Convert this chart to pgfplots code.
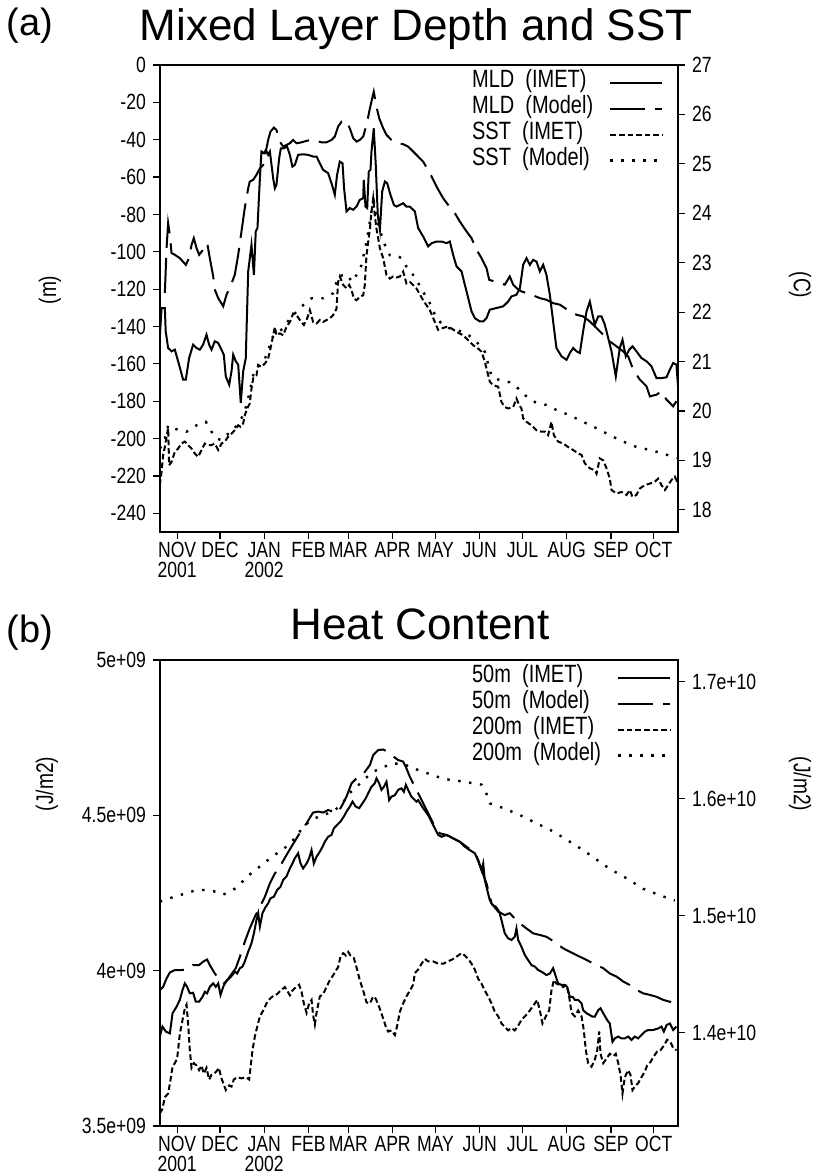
\documentclass[border=0pt]{standalone}
\usepackage{fontspec}
\setmainfont{Liberation Sans}
\newfontfamily\narrowfont{Liberation Sans}[FakeStretch=0.8]
\usepackage{pgfplots}
\usepackage{pgfplotstable}
\pgfplotsset{compat=1.18}

\newcommand\tickfont{\narrowfont\fontsize{11}{10}\selectfont}
\newcommand\labfont{\narrowfont\fontsize{12}{12}\selectfont}
\newcommand\legfont{\narrowfont\fontsize{12.5}{13}\selectfont}

% ---------- panel (a): MLD (m) and SST (C), x = days since 1 Nov 2001
\pgfplotstableread{
day val
-12.1 -145.3
-10.9 -130.1
-8.6 -130.1
-8.0 -142.6
-6.3 -151.5
-3.9 -153.3
-1.6 -152.4
0.7 -158.6
4.2 -168.4
6.1 -168.4
8.4 -156.9
11.2 -149.7
13.6 -151.5
15.9 -152.4
18.2 -149.7
20.6 -144.4
22.4 -149.7
24.1 -152.4
26.4 -147.9
28.8 -148.8
31.1 -152.4
32.7 -155.1
34.1 -166.7
36.5 -171.1
38.1 -164.0
39.3 -155.1
41.1 -158.6
42.8 -160.4
44.6 -180.9
46.3 -164.0
48.1 -156.9
49.8 -110.5
52.1 -96.3
53.8 -112.3
55.1 -89.1
56.3 -87.3
58.0 -60.6
59.1 -46.3
60.8 -47.2
62.2 -45.5
63.8 -48.1
65.0 -46.3
67.3 -60.6
68.5 -66.0
69.6 -64.2
71.5 -49.9
72.7 -44.6
74.8 -44.6
77.1 -43.7
79.0 -48.1
80.8 -54.4
82.5 -53.5
84.8 -48.1
88.3 -47.8
91.8 -48.1
95.3 -49.0
97.7 -49.0
100.0 -52.6
102.3 -56.1
105.8 -57.9
108.2 -63.3
110.5 -69.5
112.1 -58.8
114.0 -51.7
115.9 -52.6
117.0 -66.0
118.7 -78.4
121.0 -76.6
123.4 -77.5
125.7 -75.8
128.0 -72.2
130.4 -71.3
130.8 -61.5
132.0 -75.8
133.2 -76.6
134.3 -57.0
135.5 -56.1
136.2 -46.3
137.8 -33.9
139.2 -53.5
140.6 -80.2
142.1 -88.2
143.7 -67.7
145.6 -62.4
147.2 -63.3
149.5 -69.5
151.9 -74.9
153.7 -75.8
156.1 -74.9
158.4 -74.0
160.7 -75.8
163.1 -75.8
166.6 -78.4
168.9 -87.3
172.4 -91.8
175.9 -97.1
178.3 -95.4
181.8 -94.5
185.3 -94.5
188.8 -95.4
191.1 -94.5
193.4 -101.6
195.8 -107.8
199.3 -110.5
201.6 -117.6
204.0 -124.8
206.3 -131.9
208.6 -135.5
212.1 -137.3
214.5 -137.3
216.8 -135.5
219.1 -131.0
223.8 -130.1
228.5 -129.2
232.0 -126.6
234.3 -123.9
237.8 -123.0
240.2 -119.4
242.5 -107.0
244.8 -103.4
247.2 -107.0
249.5 -104.3
251.8 -105.2
254.2 -110.5
256.5 -107.0
258.8 -112.3
261.2 -123.0
263.5 -137.3
265.8 -151.5
269.4 -156.0
272.9 -157.8
275.2 -154.2
277.5 -151.5
279.9 -153.3
282.2 -154.2
284.5 -142.6
286.9 -131.9
289.2 -126.6
291.1 -133.7
292.7 -139.0
295.1 -134.6
297.4 -134.6
299.7 -139.0
302.1 -146.2
304.4 -153.3
307.4 -166.7
310.2 -151.5
312.1 -147.1
314.4 -156.0
316.8 -152.4
319.1 -150.6
321.9 -153.3
325.4 -156.9
328.9 -158.6
332.4 -161.3
335.9 -167.6
339.4 -167.6
342.9 -167.2
345.3 -163.1
347.6 -159.5
349.9 -160.4
351.0 -172.0
}\mldimet

\pgfplotstableread{
day val
-8.6 -122.0
-7.4 -98.0
-6.3 -84.7
-5.1 -91.0
-3.9 -100.7
-1.6 -101.6
1.9 -103.4
6.1 -107.0
8.4 -103.4
10.1 -96.3
11.7 -92.7
13.6 -98.0
15.4 -101.6
18.2 -98.9
21.1 -95.4
22.9 -103.4
25.3 -113.2
26.4 -120.3
28.8 -124.8
32.3 -129.2
34.6 -123.0
36.9 -119.4
40.4 -112.3
42.8 -101.6
45.1 -89.1
47.4 -76.6
49.8 -66.0
50.9 -62.4
53.3 -61.5
55.6 -58.8
58.0 -55.3
60.3 -53.5
62.2 -46.3
63.8 -40.1
65.4 -35.7
67.8 -33.5
69.6 -34.8
72.0 -41.0
74.3 -43.7
76.6 -42.8
79.0 -41.9
81.3 -40.1
83.7 -41.9
87.2 -41.4
90.7 -40.6
94.2 -40.1
97.7 -40.6
101.2 -41.4
104.7 -41.4
108.2 -40.1
110.5 -38.3
112.8 -33.0
115.2 -30.3
118.7 -29.9
121.0 -33.9
123.4 -39.2
125.7 -41.0
128.0 -40.1
130.4 -38.3
132.7 -32.1
135.1 -23.2
137.8 -14.3
139.7 -22.3
141.6 -28.5
144.4 -33.9
146.7 -37.4
150.2 -40.1
154.9 -41.9
158.4 -42.4
161.9 -43.7
165.4 -46.3
167.7 -48.1
172.4 -51.7
177.1 -57.9
181.8 -65.1
186.4 -71.3
189.9 -74.9
194.6 -79.3
198.1 -83.8
202.8 -89.1
206.3 -92.7
209.8 -98.9
213.3 -103.4
216.8 -108.7
218.7 -115.0
226.1 -116.8
229.6 -117.6
233.1 -113.2
235.5 -117.6
237.8 -119.4
241.3 -121.2
248.3 -123.0
254.2 -124.8
258.8 -125.7
263.5 -127.5
268.2 -128.3
275.2 -131.9
279.9 -133.7
284.5 -134.6
289.2 -137.3
293.9 -140.8
298.6 -144.4
303.2 -148.0
307.9 -150.6
312.6 -153.3
316.1 -156.0
319.6 -163.1
324.2 -168.4
328.9 -172.0
331.3 -177.4
335.9 -176.5
339.4 -174.7
342.9 -179.1
347.6 -182.7
349.9 -180.0
}\mldmodel

\pgfplotstableread{
day val
-12.1 18.50
-10.9 18.77
-9.8 19.11
-8.6 19.27
-7.4 19.48
-6.3 19.65
-5.6 18.90
-3.9 18.97
-1.6 19.17
0.7 19.24
3.1 19.34
5.4 19.38
7.7 19.31
10.1 19.24
12.4 19.14
14.7 19.07
17.1 19.21
19.4 19.34
21.8 19.31
24.1 19.31
26.4 19.34
28.8 19.21
31.1 19.34
33.4 19.38
35.8 19.48
38.1 19.54
40.4 19.61
42.8 19.71
44.4 19.68
46.3 19.75
47.4 19.91
49.1 20.05
50.9 20.15
52.1 20.45
53.3 20.66
55.6 20.72
56.8 20.93
59.1 20.89
61.5 20.96
63.8 21.06
65.4 21.26
67.3 21.53
68.5 21.70
69.6 21.53
72.0 21.57
74.3 21.53
76.6 21.70
79.0 21.80
81.3 21.97
83.7 21.94
86.0 21.84
88.8 21.74
91.1 21.87
93.0 22.04
95.3 21.80
97.7 21.77
100.0 21.84
102.3 21.80
104.7 21.84
107.0 21.87
109.3 21.94
111.7 22.07
112.8 22.61
114.0 22.72
116.4 22.55
118.7 22.48
120.6 22.55
122.2 22.45
123.8 22.28
125.7 22.24
128.0 22.31
130.4 22.34
131.5 22.55
132.7 23.15
133.9 23.42
135.1 23.69
136.2 24.03
137.4 24.30
138.5 23.96
139.7 23.69
140.9 23.49
142.1 23.29
144.4 23.09
146.7 22.75
149.1 22.68
151.4 22.72
153.7 22.70
156.1 22.72
158.4 22.82
160.7 22.58
163.1 22.61
167.7 22.48
172.4 22.24
177.1 22.04
180.6 21.80
182.9 21.64
185.3 21.67
188.8 21.70
192.3 21.67
195.8 21.60
200.4 21.53
204.0 21.43
207.5 21.33
211.0 21.26
213.3 21.20
215.6 21.00
216.8 20.86
219.1 20.59
221.5 20.52
225.0 20.49
227.3 20.18
229.6 20.08
232.0 20.05
235.5 20.08
237.8 20.25
239.7 20.12
241.3 20.05
242.5 19.85
244.8 19.78
248.3 19.71
251.8 19.61
255.3 19.58
257.7 19.58
260.0 19.51
262.3 19.78
264.0 19.51
267.0 19.38
270.5 19.34
274.0 19.27
277.5 19.21
281.0 19.14
283.4 19.11
285.7 18.94
289.2 18.84
292.7 18.80
293.9 18.73
296.2 19.04
298.6 19.00
300.9 18.84
303.2 18.63
304.4 18.40
307.9 18.33
311.4 18.36
314.9 18.30
317.2 18.40
319.1 18.26
321.9 18.30
324.2 18.43
327.8 18.50
331.3 18.53
334.8 18.57
337.1 18.63
339.4 18.50
341.8 18.40
344.1 18.50
346.4 18.60
348.8 18.67
351.0 18.53
}\sstimet

\pgfplotstableread{
day val
-12.1 19.24
-9.8 19.34
-7.4 19.54
-6.3 19.71
-2.8 19.65
1.9 19.61
6.6 19.58
13.6 19.71
20.1 19.78
24.1 19.58
27.6 19.44
31.1 19.41
34.6 19.51
39.3 19.61
42.8 19.75
46.3 19.91
48.6 20.12
50.9 20.39
53.3 20.72
55.6 20.86
58.0 20.96
61.5 21.06
63.8 21.20
66.1 21.47
69.6 21.57
74.3 21.67
79.0 21.87
83.7 22.01
88.3 22.14
94.2 22.28
102.3 22.28
109.3 22.38
112.8 22.72
116.4 22.75
119.9 22.75
122.2 22.61
125.7 22.75
129.2 22.95
132.7 23.42
135.1 23.83
136.9 24.17
137.8 24.23
139.7 23.90
143.2 23.56
145.6 23.36
149.1 23.15
153.7 23.15
157.2 23.09
160.7 22.92
163.1 22.85
167.7 22.65
172.4 22.41
177.1 22.18
181.8 21.87
186.4 21.74
191.1 21.67
195.8 21.64
202.8 21.57
209.8 21.40
215.6 21.20
220.3 20.70
226.1 20.62
233.1 20.58
237.4 20.50
243.7 20.32
250.7 20.18
258.8 20.12
265.8 20.02
275.2 19.91
284.5 19.78
293.9 19.65
303.2 19.51
312.6 19.38
321.9 19.27
331.3 19.21
340.6 19.14
349.9 19.04
}\sstmodel

% ---------- panel (b): heat content, both in units of 1e9 J/m2
\pgfplotstableread{
day val
-12.1 3.788
-10.3 3.820
-7.9 3.804
-5.1 3.798
-3.2 3.863
-0.4 3.884
1.9 3.906
3.8 3.938
5.4 3.959
7.0 3.948
8.9 3.927
11.2 3.929
13.1 3.900
15.4 3.900
17.8 3.916
19.4 3.932
21.0 3.927
22.9 3.948
25.3 3.959
27.1 3.948
28.8 3.959
30.4 3.922
32.3 3.948
34.1 3.965
36.5 3.975
38.8 3.986
40.4 3.997
42.1 3.991
44.0 4.008
45.8 4.013
47.4 4.029
49.8 4.061
52.1 4.088
53.8 4.120
55.6 4.163
56.8 4.185
58.0 4.142
59.8 4.185
61.5 4.201
63.8 4.217
65.4 4.233
67.8 4.238
70.1 4.260
72.4 4.270
74.3 4.292
76.6 4.303
79.0 4.329
80.8 4.345
82.5 4.362
84.8 4.378
86.5 4.345
88.3 4.329
90.7 4.345
92.5 4.362
94.2 4.388
95.8 4.345
97.7 4.367
100.0 4.383
101.9 4.399
103.5 4.415
105.8 4.431
108.2 4.437
109.8 4.458
112.1 4.469
114.5 4.480
116.8 4.496
118.7 4.512
121.0 4.528
122.9 4.544
125.2 4.528
127.6 4.523
129.9 4.539
132.2 4.555
133.9 4.571
136.2 4.592
138.5 4.603
139.7 4.619
141.6 4.603
143.2 4.582
144.9 4.592
146.7 4.608
148.6 4.549
150.2 4.560
152.6 4.565
154.9 4.582
157.2 4.587
158.9 4.576
160.3 4.598
161.9 4.582
164.2 4.560
167.7 4.544
168.9 4.549
172.4 4.523
175.9 4.501
179.4 4.469
182.9 4.437
185.3 4.431
188.8 4.437
193.4 4.426
198.1 4.415
201.6 4.399
205.1 4.388
208.6 4.378
211.0 4.356
213.3 4.324
214.5 4.345
215.6 4.292
217.3 4.260
219.1 4.227
221.0 4.211
223.3 4.206
225.7 4.190
227.3 4.163
229.6 4.120
232.0 4.104
234.3 4.099
236.6 4.109
237.8 4.136
239.0 4.099
241.3 4.077
243.7 4.050
246.0 4.034
248.3 4.018
250.7 4.013
253.0 4.002
255.3 3.997
258.8 3.986
261.2 3.991
263.5 4.008
265.4 3.981
267.0 3.959
269.4 3.954
271.7 3.954
273.3 3.948
275.2 3.916
277.1 3.916
278.7 3.906
281.0 3.906
283.4 3.895
284.5 3.873
286.9 3.863
289.2 3.857
291.1 3.852
292.7 3.852
295.1 3.873
296.7 3.879
298.6 3.863
301.4 3.841
303.2 3.830
305.1 3.771
306.7 3.782
309.1 3.788
311.4 3.782
313.7 3.782
316.1 3.788
318.4 3.777
320.7 3.788
323.1 3.782
325.4 3.793
327.8 3.804
330.1 3.809
333.6 3.809
337.1 3.814
339.4 3.820
341.1 3.804
343.0 3.825
345.3 3.830
347.6 3.809
349.9 3.820
}\fiftyimet

\pgfplotstableread{
day val
-12.1 3.938
-9.8 3.948
-7.4 3.975
-5.1 3.994
-1.6 4.002
3.1 4.002
6.6 4.004
10.8 4.018
15.4 4.018
18.2 4.029
21.0 4.036
22.9 4.018
26.4 3.991
29.9 3.970
33.4 3.959
36.9 3.981
41.1 4.008
44.4 4.050
47.4 4.093
50.9 4.136
54.5 4.174
57.5 4.201
61.5 4.238
65.0 4.281
68.5 4.313
72.0 4.335
76.6 4.372
80.1 4.399
83.7 4.426
87.2 4.453
90.7 4.474
93.5 4.496
95.3 4.509
98.8 4.512
102.3 4.509
105.8 4.517
109.3 4.512
112.8 4.509
116.4 4.539
118.7 4.560
122.2 4.603
125.7 4.619
130.4 4.633
135.1 4.662
137.4 4.694
140.9 4.710
144.4 4.712
147.2 4.705
150.2 4.694
154.9 4.678
158.4 4.673
160.7 4.651
163.1 4.624
166.6 4.592
170.1 4.560
173.6 4.528
177.1 4.496
180.6 4.464
184.1 4.442
188.8 4.437
193.4 4.426
198.1 4.415
202.8 4.399
207.5 4.383
209.8 4.367
213.3 4.324
216.8 4.281
220.3 4.217
225.0 4.190
229.6 4.179
233.1 4.185
236.6 4.168
240.2 4.152
244.8 4.136
249.5 4.120
254.2 4.115
258.8 4.109
262.3 4.099
265.8 4.088
270.5 4.072
275.2 4.061
279.9 4.050
284.5 4.040
289.2 4.029
293.9 4.018
298.6 4.008
303.2 3.991
307.9 3.981
312.6 3.965
317.2 3.954
321.9 3.938
326.6 3.927
331.3 3.922
335.9 3.916
340.6 3.906
345.3 3.900
348.8 3.895
}\fiftymodel

\pgfplotstableread{
day val
-12.1 13.31
-10.3 13.35
-8.6 13.45
-6.3 13.48
-4.6 13.60
-3.2 13.71
-1.6 13.74
0.0 13.78
1.9 13.99
3.8 14.11
5.4 14.21
6.6 14.24
7.7 14.08
8.9 13.85
10.1 13.70
11.7 13.74
13.6 13.72
15.4 13.68
17.1 13.72
18.7 13.65
20.6 13.70
22.4 13.60
24.1 13.64
25.7 13.65
27.6 13.67
29.2 13.70
31.1 13.61
32.3 13.57
34.1 13.51
36.5 13.55
38.1 13.54
39.7 13.60
42.1 13.62
45.1 13.61
48.1 13.62
50.5 13.60
51.6 13.72
52.8 13.85
54.5 13.97
56.1 14.05
58.0 14.14
60.3 14.19
62.6 14.25
65.0 14.29
67.8 14.32
70.1 14.33
72.4 14.36
75.5 14.39
77.1 14.36
79.0 14.32
80.8 14.36
83.2 14.39
85.5 14.41
87.2 14.35
88.8 14.25
90.7 14.17
92.5 14.25
94.2 14.28
95.3 14.15
96.5 14.07
97.7 14.17
100.0 14.31
102.3 14.33
104.7 14.39
107.0 14.45
109.3 14.49
111.2 14.53
112.8 14.56
114.5 14.65
116.4 14.68
118.2 14.66
119.9 14.69
121.5 14.66
123.8 14.64
125.7 14.56
128.0 14.45
130.4 14.36
132.7 14.26
135.1 14.25
137.4 14.31
139.2 14.29
141.6 14.22
143.9 14.14
146.3 14.05
147.9 14.01
150.2 14.02
152.6 13.98
154.2 14.06
156.1 14.18
158.4 14.25
160.7 14.31
163.1 14.36
165.4 14.41
166.6 14.51
168.9 14.54
171.3 14.59
173.6 14.63
175.9 14.61
179.4 14.61
182.9 14.59
186.4 14.59
189.9 14.61
193.4 14.63
197.0 14.66
199.3 14.68
201.6 14.66
204.0 14.63
206.3 14.59
208.6 14.54
211.0 14.46
213.3 14.42
215.6 14.36
218.0 14.31
220.3 14.25
222.6 14.18
225.0 14.14
227.3 14.08
229.6 14.05
232.0 14.02
234.3 14.04
236.6 14.02
239.0 14.06
241.3 14.11
243.7 14.14
246.0 14.17
248.3 14.21
250.7 14.25
252.3 14.28
254.2 14.19
256.0 14.08
258.4 14.14
260.7 14.19
262.3 14.36
264.0 14.45
265.8 14.42
268.2 14.41
270.5 14.39
272.9 14.41
274.7 14.31
276.4 14.17
278.7 14.14
281.0 14.19
283.4 14.14
285.0 14.02
286.4 13.85
288.0 13.74
290.4 13.71
292.7 13.77
294.4 13.85
295.8 14.01
296.7 13.82
298.6 13.74
300.9 13.78
303.2 13.82
305.6 13.80
307.4 13.82
309.1 13.74
310.7 13.64
312.1 13.48
313.7 13.62
316.1 13.68
317.7 13.64
319.1 13.51
320.7 13.54
323.1 13.57
325.4 13.62
327.8 13.67
329.4 13.72
331.7 13.75
334.1 13.80
336.4 13.84
338.7 13.85
341.1 13.89
343.4 13.94
345.7 13.92
347.6 13.87
349.9 13.85
}\twohimet

\pgfplotstableread{
day val
-12.1 15.12
-5.1 15.15
3.1 15.18
11.2 15.21
18.2 15.22
25.3 15.21
32.3 15.18
40.4 15.23
47.4 15.31
53.3 15.38
59.1 15.43
65.0 15.49
72.0 15.55
77.8 15.60
83.7 15.68
88.3 15.76
94.2 15.82
100.0 15.85
104.7 15.87
110.5 15.90
116.4 15.97
121.0 16.05
125.7 16.10
131.5 16.17
137.4 16.23
144.4 16.27
151.4 16.30
158.4 16.30
163.1 16.27
174.8 16.22
186.4 16.17
198.1 16.15
213.3 16.12
217.3 16.03
219.1 15.96
228.5 15.92
240.2 15.86
251.8 15.79
263.5 15.72
272.9 15.65
284.5 15.56
293.9 15.48
303.2 15.40
314.9 15.32
326.6 15.23
337.1 15.18
348.8 15.13
}\twohmodel

\pgfplotsset{
  imet/.style={black, line width=1pt, solid},
  model/.style={black, line width=1pt, dash pattern=on 17.5pt off 5pt},
  imetb/.style={black, line width=1pt, dash pattern=on 2.8pt off 1.5pt},
  modelb/.style={black, line width=1.2pt, dash pattern=on 1.2pt off 4.3pt},
  base/.style={
    scale only axis, width=259pt, height=233.5pt,
    xmin=-12, xmax=351, no markers,
    axis line style={line width=1pt},
    tick align=outside, major tick length=3.5pt,
    every tick/.style={black, line width=0.6pt},
    tick label style={font=\tickfont},
  },
  leftax/.style={base, xtick pos=lower, ytick pos=left,
    xtick={0,30,61,92,120,151,181,212,242,273,304,334},
    xticklabels={NOV\\2001,DEC,JAN\\2002,FEB,MAR,APR,MAY,JUN,JUL,AUG,SEP,OCT},
    xticklabel style={align=center, yshift=2pt},
  },
  rightax/.style={base, axis x line=none, axis y line*=right,
    legend cell align=left, legend plot pos=right,
    legend image code/.code={\draw[##1] (0pt,0pt) -- (26pt,0pt);},
    legend style={at={(rel axis cs:0.6017,0.991)}, anchor=north west,
      draw=none, fill=none, inner sep=0pt, font=\legfont,
      row sep=0pt, column sep=8pt,
      nodes={inner sep=0pt, text height=9pt, text depth=4pt}},
  },
}

\begin{document}
\begin{tikzpicture}
\path[use as bounding box] (0,0) rectangle (409.5pt,-588pt);

% titles
\node[font=\fontsize{19}{19}\selectfont] at (15pt,-13pt) {(a)};
\node[font=\fontsize{22}{22}\selectfont] at (208pt,-14.5pt) {Mixed Layer Depth and SST};
\node[font=\fontsize{19}{19}\selectfont] at (15pt,-316.5pt) {(b)};
\node[font=\fontsize{22}{22}\selectfont] at (210pt,-312pt) {Heat Content};

% axis labels
\node[rotate=90, font=\labfont] at (25pt,-145pt) {(m)};
\node[rotate=-90, font=\labfont] at (400pt,-142.5pt) {(C)};
\node[rotate=90, font=\labfont] at (23.5pt,-392pt) {(J/m2)};
\node[rotate=-90, font=\labfont] at (400pt,-392pt) {(J/m2)};

% ---- panel (a)
\begin{axis}[leftax, at={(80pt,-32.5pt)}, anchor=north west,
  ymin=-250, ymax=0,
  ytick={0,-20,-40,-60,-80,-100,-120,-140,-160,-180,-200,-220,-240},
  yticklabels={0,-20,-40,-60,-80,-100,-120,-140,-160,-180,-200,-220,-240}]
  \addplot[imet] table[x=day,y=val] {\mldimet};
  \addplot[model] table[x=day,y=val] {\mldmodel};
\end{axis}
\begin{axis}[rightax, at={(80pt,-32.5pt)}, anchor=north west,
  ymin=17.55, ymax=27,
  ytick={18,19,20,21,22,23,24,25,26,27},
  yticklabels={18,19,20,21,22,23,24,25,26,27}]
  \addlegendimage{imet}
  \addlegendentry{MLD\ \ (IMET)}
  \addlegendimage{model}
  \addlegendentry{MLD\ \ (Model)}
  \addplot[imetb] table[x=day,y=val] {\sstimet};
  \addlegendentry{SST\ \ (IMET)}
  \addplot[modelb] table[x=day,y=val] {\sstmodel};
  \addlegendentry{SST\ \ (Model)}
\end{axis}

% ---- panel (b)
\begin{axis}[leftax, at={(80pt,-330pt)}, anchor=north west, height=233pt,
  ymin=3.5, ymax=5,
  ytick={3.5,4,4.5,5},
  yticklabels={3.5e+09,4e+09,4.5e+09,5e+09}]
  \addplot[imet] table[x=day,y=val] {\fiftyimet};
  \addplot[model] table[x=day,y=val] {\fiftymodel};
\end{axis}
\begin{axis}[rightax, at={(80pt,-330pt)}, anchor=north west, height=233pt,
  ymin=13.203, ymax=17.185,
  ytick={14,15,16,17},
  yticklabels={1.4e+10,1.5e+10,1.6e+10,1.7e+10}]
  \addlegendimage{imet}
  \addlegendentry{50m\ \ (IMET)}
  \addlegendimage{model}
  \addlegendentry{50m\ \ (Model)}
  \addplot[imetb] table[x=day,y=val] {\twohimet};
  \addlegendentry{200m\ \ (IMET)}
  \addplot[modelb] table[x=day,y=val] {\twohmodel};
  \addlegendentry{200m\ \ (Model)}
\end{axis}
\end{tikzpicture}
\end{document}
